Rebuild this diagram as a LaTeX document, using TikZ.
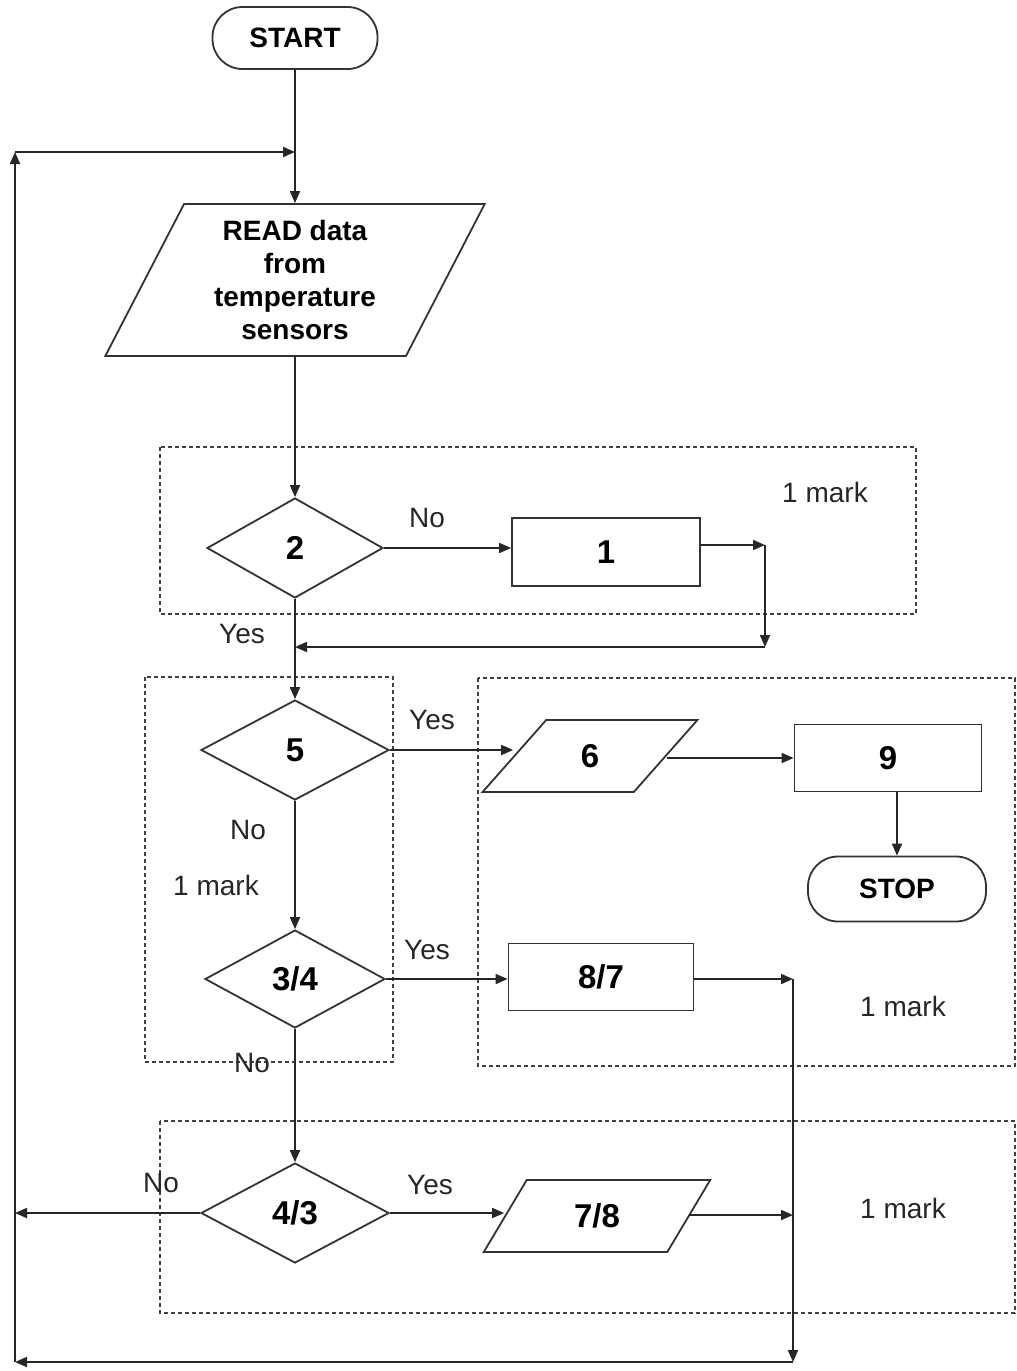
\documentclass[tikz,border=0pt]{standalone}
\usepackage{fontspec}
\setmainfont{Liberation Sans}
\usepackage{tikz}
\usetikzlibrary{positioning, shapes.geometric, arrows.meta, calc}

\begin{document}
\begin{tikzpicture}[
  x=0.5pt, y=-0.5pt,
  terminal/.style={
    rectangle, rounded corners=15pt, draw=black!80, line width=0.9pt,
    minimum width=#1, minimum height=31pt, inner sep=0pt,
    font=\fontsize{14pt}{16pt}\selectfont\bfseries
  },
  io/.style={
    trapezium, trapezium left angle=#1, trapezium right angle=180-#1,
    trapezium stretches=true, draw=black!80, line width=0.9pt, inner sep=0pt,
    align=center, font=\fontsize{16.5pt}{19pt}\selectfont\bfseries
  },
  process/.style={
    rectangle, draw=black!80, line width=0.9pt, inner sep=0pt,
    minimum height=34pt, font=\fontsize{16.5pt}{19pt}\selectfont\bfseries
  },
  decision/.style={
    diamond, draw=black!80, line width=0.9pt, inner sep=0pt,
    minimum height=50pt, font=\fontsize{16.5pt}{19pt}\selectfont\bfseries
  },
  lbl/.style={font=\fontsize{14pt}{16pt}\selectfont, text=black!85},
  group/.style={draw=black!75, dashed, dash pattern=on 2pt off 1.5pt, line width=0.6pt},
  arrow/.style={-{Triangle[length=6pt,width=5pt]}, draw=black!85, line width=0.9pt},
  line/.style={draw=black!85, line width=0.9pt}
]
\useasboundingbox (0,0) rectangle (1017,1371);

% Marking regions
\draw[group] (160,447) rectangle (916,614);
\draw[group] (145,677) rectangle (393,1062);
\draw[group] (478,678) rectangle (1015,1066);
\draw[group] (160,1121) rectangle (1015,1313);

% Main column
\node[terminal=82.5pt] (start) at (295,38) {START};
\node[io=64.35, minimum width=190pt, minimum height=76pt,
      font=\fontsize{14pt}{16.5pt}\selectfont\bfseries] (read) at (295,280)
  {READ data\\from\\temperature\\sensors};
\node[decision, minimum width=88pt] (d2) at (295,548) {2};
\node[decision, minimum width=94pt] (d5) at (295,750) {5};
\node[decision, minimum width=90pt, minimum height=49pt] (d34) at (295,979) {3/4};
\node[decision, minimum width=94pt] (d43) at (295,1213) {4/3};

% Right-hand steps
\node[process, minimum width=94pt] (b1) at (606,552) {1};
\node[io=60.3, minimum width=107.5pt, minimum height=36pt] (p6) at (590,756) {6};
\node[process, minimum width=93.5pt, minimum height=33.5pt] (b9) at (888,758) {9};
\node[terminal=89pt, minimum height=32.5pt] (stop) at (897,889) {STOP};
\node[process, minimum width=92.5pt, minimum height=33.5pt] (b87) at (601,977) {8/7};
\node[io=60.3, minimum width=113.5pt, minimum height=36pt] (p78) at (597,1216) {7/8};

% Junction points
\coordinate (loopTop) at (15,152);
\coordinate (joinTop) at (295,152);
\coordinate (r1) at (765,545);
\coordinate (r2) at (765,647);
\coordinate (m2) at (295,647);
\coordinate (r3) at (793,979);
\coordinate (r4) at (793,1215);
\coordinate (r5) at (793,1362);
\coordinate (loopBot) at (15,1362);
\coordinate (l43) at (15,1213);

% Labels
\node[lbl] (no2) at (427,518) {No};
\node[lbl] (yes2) at (242,634) {Yes};
\node[lbl] (mark1) at (825,492) {1 mark};
\node[lbl] (yes5) at (432,720) {Yes};
\node[lbl] (no5) at (248,830) {No};
\node[lbl] (mark2) at (216,885) {1 mark};
\node[lbl] (yes34) at (427,950) {Yes};
\node[lbl] (no34) at (252,1063) {No};
\node[lbl] (mark3) at (903,1006) {1 mark};
\node[lbl] (no43) at (161,1183) {No};
\node[lbl] (yes43) at (430,1185) {Yes};
\node[lbl] (mark4) at (903,1208) {1 mark};

% Main vertical flow
\draw[line] (start) -- (joinTop);
\draw[arrow] (joinTop) -- (read);
\draw[arrow] (read) -- (d2);
\draw[arrow] (d2) -- (d5);
\draw[arrow] (d5) -- (d34);
\draw[arrow] (d34) -- (d43);

% Branches
\draw[arrow] (d2.east) -- (d2.east -| b1.west);
\draw[arrow] (b1.east |- r1) -- (r1);
\draw[arrow] (r1) -- (r2);
\draw[arrow] (r2) -- (m2);
\draw[arrow] (d5.east) -- (d5.east -| p6.west);
\draw[arrow] (p6.east |- b9.west) -- (b9.west);
\draw[arrow] (stop.north |- b9.south) -- (stop.north);
\draw[arrow] (d34.east) -- (d34.east -| b87.west);
\draw[arrow] (b87.east |- r3) -- (r3);
\draw[arrow] (d43.east) -- (d43.east -| p78.west);
\draw[arrow] (p78.east |- r4) -- (r4);
\draw[arrow] (d43.west) -- (l43);

% Loop back
\draw[arrow] (r3) -- (r5);
\draw[arrow] (r5) -- (loopBot);
\draw[arrow] (loopBot) -- (loopTop);
\draw[arrow] (loopTop) -- (joinTop);

\end{tikzpicture}
\end{document}
